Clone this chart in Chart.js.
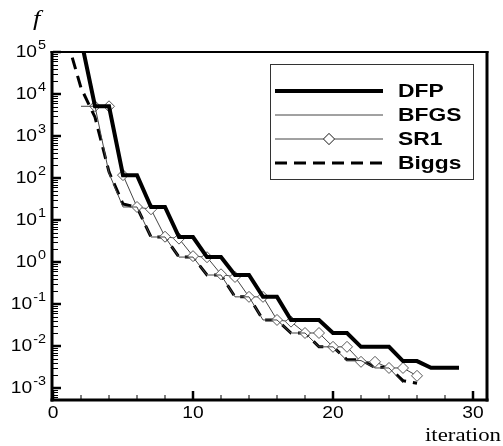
<!DOCTYPE html>
<html>
<head>
<meta charset="utf-8">
<script src="https://cdn.jsdelivr.net/npm/chart.js@4.4.1/dist/chart.umd.min.js"></script>
<style>
  html, body { margin: 0; padding: 0; background: #fff; }
  #wrap { position: relative; width: 503px; height: 446px; }
</style>
</head>
<body>
<div id="wrap"><canvas id="chart"></canvas></div>
<script>
// values (f on a log scale)
const dfpIter = [2, 3, 4, 5, 6, 7, 8, 9, 10, 11, 12, 13, 14, 15, 16, 17, 18, 19, 20, 21, 22, 23, 24, 25, 26, 27, 28, 29];
const dfpF = [2.0e5, 5100, 5100, 117, 117, 20.4, 20.4, 3.94, 3.94, 1.31, 1.31, 0.49, 0.49, 0.148, 0.148,
  0.0417, 0.0417, 0.0417, 0.0204, 0.0204, 0.00955, 0.00955, 0.00955, 0.00437, 0.00437, 0.00302, 0.00302, 0.00302];

const bfgsIter = [2, 3, 4, 5, 6, 7, 8, 9, 10, 11, 12, 13, 14, 15, 16, 17, 18, 19, 20, 21, 22, 23, 24, 25];
const bfgsF = [5100, 5100, 130, 20.4, 20.4, 3.94, 3.94, 1.31, 1.31, 0.49, 0.49, 0.148, 0.148,
  0.0417, 0.0417, 0.0204, 0.0204, 0.00955, 0.00955, 0.0045, 0.0045, 0.003, 0.003, 0.00132];

const sr1Iter = [3, 4, 5, 6, 7, 8, 9, 10, 11, 12, 13, 14, 15, 16, 17, 18, 19, 20, 21, 22, 23, 24, 25, 26];
const sr1F = [5100, 5100, 117, 20.4, 18, 4.0, 3.6, 1.38, 1.3, 0.51, 0.44, 0.148, 0.148,
  0.0417, 0.038, 0.0204, 0.0204, 0.00955, 0.00955, 0.0042, 0.0042, 0.003, 0.003, 0.00195];

const biggsIter = [1, 2, 3, 4, 5, 6, 7, 8, 9, 10, 11, 12, 13, 14, 15, 16, 17, 18, 19, 20, 21, 22, 23, 24, 25, 26];
const biggsF = [2.0e5, 1.4e4, 2800, 140, 24, 20, 3.94, 3.94, 1.31, 1.31, 0.49, 0.49, 0.148, 0.148,
  0.0417, 0.0417, 0.0204, 0.0204, 0.00955, 0.00955, 0.0047, 0.0047, 0.0031, 0.0031, 0.0015, 0.0013];

const xLabels = [0, 10, 20, 30];
const xMinorStep = 2;
const yExponents = [-3, -2, -1, 0, 1, 2, 3, 4, 5];
const xMin = 0, xMax = 31;
const yMin = 5.18e-4, yMax = 1e5;

const sx = 1.2; // reference text is a little wide
const sansFont = "'Liberation Sans', Arial, sans-serif";
const serifFont = "'Liberation Serif', 'Times New Roman', serif";

function pts(xs, ys) {
  return xs.map((x, i) => ({ x, y: ys[i] }));
}

function wideText(ctx, text, x, y, font, align) {
  ctx.save();
  ctx.font = font;
  const w = ctx.measureText(text).width * sx;
  let left = x;
  if (align === 'center') left = x - w / 2;
  else if (align === 'right') left = x - w;
  ctx.translate(left, y);
  ctx.scale(sx, 1);
  ctx.textAlign = 'left';
  ctx.fillText(text, 0, 0);
  ctx.restore();
  return w;
}

function seg(ctx, x1, y1, x2, y2) {
  ctx.beginPath();
  ctx.moveTo(x1, y1);
  ctx.lineTo(x2, y2);
  ctx.stroke();
}

// frame, inward ticks and tick labels
const framePlugin = {
  id: 'frame',
  afterDatasetsDraw(chart) {
    const { ctx, chartArea: a, scales: { x, y } } = chart;
    ctx.save();
    ctx.strokeStyle = '#000';
    ctx.fillStyle = '#000';

    // y ticks
    for (let e = yExponents[0] - 1; e <= yExponents[yExponents.length - 1]; e++) {
      const base = Math.pow(10, e);
      if (base >= yMin) {
        ctx.lineWidth = 2.5;
        const py = y.getPixelForValue(base);
        seg(ctx, a.left, py, a.left + 8, py);
      }
      if (e === yExponents[yExponents.length - 1]) break;
      ctx.lineWidth = 1;
      for (let m = 2; m <= 9; m++) {
        const v = m * base;
        if (v < yMin) continue;
        const pm = Math.round(y.getPixelForValue(v)) + 0.5;
        seg(ctx, a.left, pm, a.left + 5, pm);
      }
    }

    // x ticks
    for (let v = xMin; v <= xMax; v += xMinorStep) {
      const px = x.getPixelForValue(v);
      const major = xLabels.includes(v);
      ctx.lineWidth = major ? 2.5 : 1;
      seg(ctx, px, a.bottom, px, a.bottom - (major ? 9 : 5));
    }

    // box
    ctx.lineWidth = 3;
    seg(ctx, a.left - 1, a.top - 1, a.left - 1, a.bottom + 1.5);
    seg(ctx, a.left - 2.5, a.bottom, a.right + 1.5, a.bottom);
    seg(ctx, a.right, a.top - 1, a.right, a.bottom + 1.5);
    ctx.lineWidth = 2;
    seg(ctx, a.left - 2.5, a.top, a.right + 1.5, a.top);

    // y labels 10^n
    ctx.textBaseline = 'middle';
    yExponents.forEach(e => {
      const py = y.getPixelForValue(Math.pow(10, e));
      const exp = String(e);
      ctx.font = '12px ' + sansFont;
      const ew = ctx.measureText(exp).width * sx;
      const right = 46;
      wideText(ctx, exp, right - ew, py - 6, '12px ' + sansFont, 'left');
      wideText(ctx, '10', right - ew - 1, py + 1, '16px ' + sansFont, 'right');
    });

    // x labels
    xLabels.forEach(v => {
      const px = x.getPixelForValue(v);
      wideText(ctx, String(v), px, a.bottom + 14, '16px ' + sansFont, 'center');
    });

    // axis titles
    ctx.textBaseline = 'alphabetic';
    wideText(ctx, 'f', 33, 25, 'italic 22px ' + serifFont, 'left');
    wideText(ctx, 'iteration', 501, 441, '19px ' + serifFont, 'right');
    ctx.restore();
  }
};

// boxed legend with a diamond on the SR1 sample
const legendPlugin = {
  id: 'boxLegend',
  afterDraw(chart) {
    const { ctx } = chart;
    const bx = 270.5, by = 64.5, bw = 203, bh = 115;
    ctx.save();
    ctx.fillStyle = '#fff';
    ctx.fillRect(bx, by, bw, bh);
    ctx.strokeStyle = '#333';
    ctx.lineWidth = 1;
    ctx.strokeRect(bx, by, bw, bh);

    const x1 = 275, x2 = 383, tx = 398;
    chart.data.datasets.forEach((ds, i) => {
      const ry = 91 + i * 24;
      ctx.save();
      ctx.strokeStyle = ds.borderColor;
      ctx.lineWidth = ds.borderWidth;
      ctx.setLineDash(ds.borderDash || []);
      ctx.lineCap = 'butt';
      seg(ctx, x1, ry, x2, ry);
      ctx.restore();
      if (ds.pointRadius > 0) {
        Chart.helpers.drawPoint(ctx, {
          pointStyle: ds.pointStyle,
          radius: ds.pointRadius,
          borderWidth: ds.pointBorderWidth,
          rotation: 0
        }, (x1 + x2) / 2, ry);
        ctx.fillStyle = ds.pointBackgroundColor;
        ctx.strokeStyle = ds.pointBorderColor;
        ctx.lineWidth = ds.pointBorderWidth;
        ctx.fill();
        ctx.stroke();
      }
      ctx.fillStyle = '#000';
      ctx.textBaseline = 'middle';
      wideText(ctx, ds.label, tx, ry + 1, 'bold 19px ' + sansFont, 'left');
    });
    ctx.restore();
  }
};

new Chart(document.getElementById('chart'), {
  type: 'line',
  data: {
    datasets: [
      { label: 'DFP', data: pts(dfpIter, dfpF), borderColor: '#000', borderWidth: 4,
        pointRadius: 0, borderJoinStyle: 'miter', clip: 0 },
      { label: 'BFGS', data: pts(bfgsIter, bfgsF), borderColor: '#444', borderWidth: 1,
        pointRadius: 0, clip: 0 },
      { label: 'SR1', data: pts(sr1Iter, sr1F), borderColor: '#444', borderWidth: 1,
        pointStyle: 'rectRot', pointRadius: 5.5, pointBorderWidth: 1,
        pointBackgroundColor: '#fff', pointBorderColor: '#555', clip: 0 },
      { label: 'Biggs', data: pts(biggsIter, biggsF), borderColor: '#000', borderWidth: 3,
        borderDash: [12, 7], pointRadius: 0, clip: 0 }
    ]
  },
  options: {
    responsive: true,
    maintainAspectRatio: false,
    animation: false,
    layout: { padding: { left: 53, right: 16, top: 52, bottom: 46 } },
    plugins: { legend: { display: false }, tooltip: { enabled: false } },
    scales: {
      x: { type: 'linear', min: xMin, max: xMax, display: false },
      y: { type: 'logarithmic', min: yMin, max: yMax, display: false }
    }
  },
  plugins: [framePlugin, legendPlugin]
});
</script>
</body>
</html>
